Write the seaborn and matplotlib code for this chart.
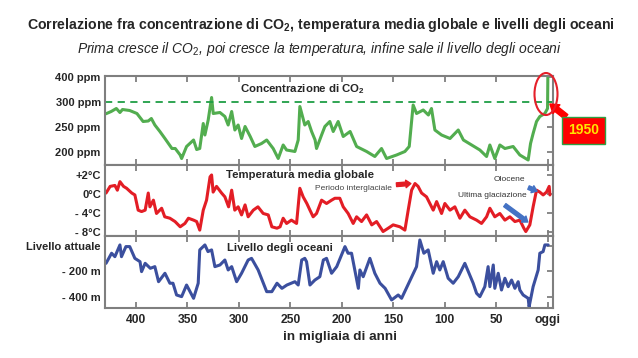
import numpy as np
import pandas as pd
import matplotlib
matplotlib.use('Agg')
import matplotlib.pyplot as plt
from matplotlib.patches import Ellipse
import seaborn as sns

# Values (x = migliaia di anni fa)
co2_kyr = [430, 428.5, 424, 419, 415.5, 413, 406, 399, 393, 388, 385, 381.6, 376.7, 371.8, 365, 361.8,
           357, 355.6, 350.8, 344, 341, 338, 334.6, 333, 329.8, 326.5, 324.9, 318.4, 313.6, 310.4, 307,
           303.9, 300.7, 297.4, 294, 289, 284.5, 278, 273, 266.7, 261.8, 257, 253.7, 245.6, 242.4, 240.8,
           236, 232.7, 229.4, 226, 224.6, 219.7, 216.5, 211.7, 208.4, 203.6, 198.7, 192, 185.7, 176, 168,
           161.5, 156.6, 146.9, 138.8, 134.6, 130.8, 127.5, 121, 116, 113, 109.7, 103.2, 95, 87, 82, 74,
           66, 59.5, 56.3, 51.5, 46.6, 41.7, 33.7, 27.2, 19.1, 16.8, 14.3, 11, 7.8, 2.9, 0.3, 0.0]
co2_ppm = [276, 277, 281, 287, 279, 285, 283, 277, 261, 262, 267, 254, 241, 227, 207, 207,
           194, 187, 211, 224, 205, 207, 257, 234, 264, 318, 277, 279, 271, 254, 281,
           244, 254, 227, 251, 231, 211, 217, 224, 207, 187, 214, 204, 201, 224, 291,
           254, 261, 241, 224, 207, 234, 251, 261, 241, 261, 231, 241, 211, 201, 191,
           207, 187, 194, 201, 211, 294, 277, 284, 274, 287, 244, 234, 227, 244, 224, 214,
           204, 191, 214, 187, 214, 207, 211, 194, 184, 217, 237, 261, 271, 277, 287, 400]

temp_kyr = [429, 425, 420.4, 418, 415.5, 412, 409, 404, 401, 397.8, 394.5, 391, 388, 386.4, 383, 380,
            375, 372, 367, 362, 357, 352.4, 349, 344, 341, 338, 334.6, 331.4, 328, 326.5, 325, 321.7,
            316.8, 313.6, 310, 307, 304, 300.7, 297.4, 294, 291, 286, 281.5, 276.4, 271.5, 268, 263,
            260, 257, 253.7, 249, 244, 240.8, 237.6, 234, 231, 227.9, 224.6, 219.7, 214.9, 210, 206.8,
            202, 198.7, 193.9, 189, 185.7, 180.9, 176, 171, 166.3, 160, 155, 150.2, 143.7, 138.8,
            135.6, 132.3, 129, 126, 122.6, 117.8, 111.3, 108, 103.2, 100, 95, 90.3, 85.4, 80.6, 75.7,
            69.2, 64.4, 59.5, 56.3, 51.5, 46.6, 41.7, 36.9, 32, 27.2, 23.3, 21.4, 17.5, 14.3, 11, 7.8,
            4.6, 1.3, -1.3, -2]
temp_c = [0.1, 0.8, 0.9, 0.4, 1.3, 0.8, 0.6, 0.1, -0.2, -3.4, -3.7, -3.4, 0.1, -2.7, -1.3, -4.1,
          -3.0, -4.8, -5.1, -5.8, -6.9, -6.2, -5.1, -5.5, -5.8, -7.6, -3.4, -1.3, 1.8, 2.0, 0.2, 0.8,
          0.1, -0.6, -2.7, 0.4, -3.4, -2.7, -4.4, -2.3, -4.8, -3.4, -2.7, -4.1, -4.4, -6.9, -7.2,
          -6.9, -5.1, -6.2, -5.5, -6.2, 0.6, -0.6, -2.0, -3.4, -4.8, -4.1, -1.3, -2.0, -1.3, -0.9,
          -0.9, -2.7, -4.1, -6.2, -4.8, -5.8, -4.4, -6.5, -5.8, -7.9, -7.2, -6.5, -6.9, -7.6,
          -3.4, 0.4, 1.1, 0.8, 0.1, -0.6, -3.4, -1.6, -4.1, -2.0, -3.4, -2.7, -5.1, -3.4, -4.8,
          -5.5, -6.2, -4.8, -3.0, -4.8, -4.1, -5.5, -4.8, -5.8, -5.5, -7.2, -7.9, -6.5, -2.7, 0.4, 0.2,
          -0.2, 0.2, 0.8, -0.2]

sea_kyr = [429, 423.6, 420.4, 415.5, 414, 409.7, 406, 401, 396, 394.5, 391, 386, 381.6, 378, 371.8, 367,
           364, 360.5, 355.6, 350.8, 344, 339.5, 338, 333, 330, 326.5, 323.3, 318.4, 313.6, 310.4, 307,
           302.2, 297.4, 291, 287.7, 281.3, 273, 268, 263, 258.2, 253.4, 245.6, 242.4, 239, 236, 234.3,
           231, 226.2, 221.4, 218, 214.9, 210, 205, 197, 194, 190.6, 184, 182.5, 179.3, 172.8, 168, 163,
           158, 151.7, 145.3, 142, 127.5, 124.3, 120.4, 116.2, 111.3, 108, 104.9, 101.6, 96.8, 91.9, 87,
           80.6, 72.5, 69.2, 66, 61.2, 58, 56.3, 53, 51.5, 48.2, 45, 41.7, 38.5, 35.2, 32, 28.8, 27.2,
           24, 19.1, 18.2, 14.3, 9.4, 7.8, 4.6, 2.9, -0.3]
sea_m = [-136, -57, -84, 8, -84, -5, -5, -97, -123, -201, -136, -175, -162, -280, -214, -292,
         -292, -384, -397, -306, -410, -292, -31, 8, -44, -31, -162, -149, -110, -188, -162,
         -280, -214, -110, -97, -188, -358, -358, -292, -332, -306, -280, -306, -110, -97, -123,
         -306, -267, -241, -110, -97, -214, -162, -5, -57, -57, -332, -188, -241, -97, -214, -292,
         -332, -423, -384, -410, -162, 47, -57, -31, -214, -123, -188, -123, -253, -292, -241,
         -136, -292, -371, -397, -319, -162, -319, -149, -332, -214, -345, -253, -319, -267, -332, -280, -345,
         -384, -410, -476, -319, -188, -57, -44, 8, 8]

x_ticks = [400, 350, 300, 250, 200, 150, 100, 50, 0]
x_tick_labels = ['400', '350', '300', '250', '200', '150', '100', '50', 'oggi']
co2_ticks = [400, 300, 250, 200]
co2_tick_labels = ['400 ppm', '300 ppm', '250 ppm', '200 ppm']
temp_ticks = [2, 0, -4, -8]
temp_tick_labels = ['+2°C', '0°C', '- 4°C', '- 8°C']
sea_ticks = [0, -200, -400]
sea_tick_labels = ['Livello attuale', '- 200 m', '- 400 m']

sns.set_style('white')
plt.rcParams['font.family'] = ['Liberation Sans', 'DejaVu Sans']
plt.rcParams['mathtext.fontset'] = 'custom'
plt.rcParams['mathtext.rm'] = 'Liberation Sans'
plt.rcParams['mathtext.bf'] = 'Liberation Sans:bold'
plt.rcParams['mathtext.it'] = 'Liberation Sans:italic'

GREEN = '#52ad4f'
RED = '#e31d25'
BLUE = '#3b4f9e'
ARROW_BLUE = '#4472c4'
SPINE = '#7f7f7f'

fig = plt.figure(figsize=(6.38, 3.58), dpi=100)
L, W = 105 / 638, 448 / 638
ax1 = fig.add_axes([L, 1 - 165 / 358, W, 89 / 358])
ax2 = fig.add_axes([L, 1 - 236 / 358, W, 71 / 358])
ax3 = fig.add_axes([L, 1 - 308 / 358, W, 72 / 358])

co2 = pd.DataFrame({'kyr': co2_kyr, 'val': co2_ppm})
temp = pd.DataFrame({'kyr': temp_kyr, 'val': temp_c})
sea = pd.DataFrame({'kyr': sea_kyr, 'val': sea_m})

sns.lineplot(data=co2, x='kyr', y='val', ax=ax1, color=GREEN, lw=2.2, sort=False, estimator=None)
sns.lineplot(data=temp, x='kyr', y='val', ax=ax2, color=RED, lw=2.2, sort=False, estimator=None)
sns.lineplot(data=sea, x='kyr', y='val', ax=ax3, color=BLUE, lw=2.2, sort=False, estimator=None)

# the source axes are not linear above 300 ppm / below 0 degrees
def co2_fwd(y):
    y = np.asarray(y, dtype=float)
    return np.where(y <= 300, y, 300 + (y - 300) / 2)

def co2_inv(t):
    t = np.asarray(t, dtype=float)
    return np.where(t <= 300, t, 300 + (t - 300) * 2)

def temp_fwd(y):
    y = np.asarray(y, dtype=float)
    return np.where(y >= 0, y, y / 2)

def temp_inv(t):
    t = np.asarray(t, dtype=float)
    return np.where(t >= 0, t, t * 2)

ax1.set_yscale('function', functions=(co2_fwd, co2_inv))
ax2.set_yscale('function', functions=(temp_fwd, temp_inv))
ax1.set_ylim(174, 404)
ax2.set_ylim(-8.84, 3.05)
ax3.set_ylim(-486, 78)

ax1.axhline(300, color='#1f9e45', ls='--', lw=1.3, dashes=(4, 3))

for ax, ticks, labels in [(ax1, co2_ticks, co2_tick_labels),
                          (ax2, temp_ticks, temp_tick_labels),
                          (ax3, sea_ticks, sea_tick_labels)]:
    ax.set_xlim(430, -5)
    ax.set_xticks(x_ticks)
    ax.set_yticks(ticks)
    ax.set_yticklabels(labels, fontsize=8, fontweight='bold')
    ax.yaxis.set_minor_locator(matplotlib.ticker.NullLocator())
    ax.set_xlabel('')
    ax.set_ylabel('')
    ax.tick_params(axis='x', direction='in', top=True, bottom=True, length=4, width=1.3,
                   color=SPINE, labelbottom=False)
    ax.tick_params(axis='y', direction='in', left=False, right=True, length=4, width=1.3,
                   color=SPINE, pad=3)
    for s in ax.spines.values():
        s.set_color(SPINE)
        s.set_linewidth(1.5)

ax3.set_xticklabels(x_tick_labels)
ax3.tick_params(axis='x', labelbottom=True, labelsize=8.7, pad=4)
for t in ax3.get_xticklabels():
    t.set_fontweight('bold')

ax1.text(0.44, 0.855, 'Concentrazione di CO$_\\mathbf{2}$', transform=ax1.transAxes, ha='center', va='center',
         fontsize=8.2, fontweight='bold')
ax2.text(0.435, 0.86, 'Temperatura media globale', transform=ax2.transAxes, ha='center', va='center',
         fontsize=8.2, fontweight='bold')
ax3.text(0.39, 0.835, 'Livello degli oceani', transform=ax3.transAxes, ha='center', va='center',
         fontsize=8.2, fontweight='bold')

# small notes on the temperature panel
fat = 'simple,head_width=0.9,head_length=0.6,tail_width=0.45'
ax2.annotate('Periodo interglaciale', xy=(133, 1.1), xytext=(151.5, 0.6), ha='right', va='center',
             fontsize=6, color='#444444',
             arrowprops=dict(arrowstyle=fat, fc=RED, ec=RED, shrinkA=1, shrinkB=0))
ax2.annotate('Olocene', xy=(10.5, 0.3), xytext=(37, 1.5), ha='center', va='center',
             fontsize=6, color='#333333',
             arrowprops=dict(arrowstyle=fat, fc=ARROW_BLUE, ec=ARROW_BLUE, shrinkA=2, shrinkB=0))
ax2.annotate('Ultima glaciazione', xy=(19.5, -5.9), xytext=(54, -0.4), ha='center', va='center',
             fontsize=6, color='#333333',
             arrowprops=dict(arrowstyle=fat, fc=ARROW_BLUE, ec=ARROW_BLUE, shrinkA=3, shrinkB=0))

# 1950 highlight
fig.add_artist(Ellipse((546 / 638, 1 - 94 / 358), 23 / 638, 42 / 358, transform=fig.transFigure,
                       fill=False, ec='#e5202a', lw=1.5, clip_on=False))
ax1.annotate('1950', xy=(-2, 296), xycoords='data', xytext=(583.5, 358 - 130.5), textcoords='figure pixels',
             ha='center', va='center', fontsize=10, fontweight='bold', color='#ffe600',
             bbox=dict(boxstyle='square,pad=0.45', fc='#ff0000', ec='#2ea043', lw=1),
             arrowprops=dict(arrowstyle='simple,head_width=0.8,head_length=0.6,tail_width=0.4',
                             fc='#ff0000', ec='#ff0000', shrinkA=0, shrinkB=0))

fig.text(340 / 638, 1 - 337 / 358, 'in migliaia di anni', ha='center', va='center',
         fontsize=9.7, fontweight='bold')
fig.text(321 / 638, 1 - 25 / 358,
         'Correlazione fra concentrazione di CO$_\\mathbf{2}$, temperatura media globale e livelli degli oceani',
         ha='center', va='center', fontsize=10.2, fontweight='bold')
fig.text(319 / 638, 1 - 49 / 358,
         'Prima cresce il CO$_\\mathit{2}$, poi cresce la temperatura, infine sale il livello degli oceani',
         ha='center', va='center', fontsize=10, style='italic')

fig.savefig('out.png', dpi=100)
